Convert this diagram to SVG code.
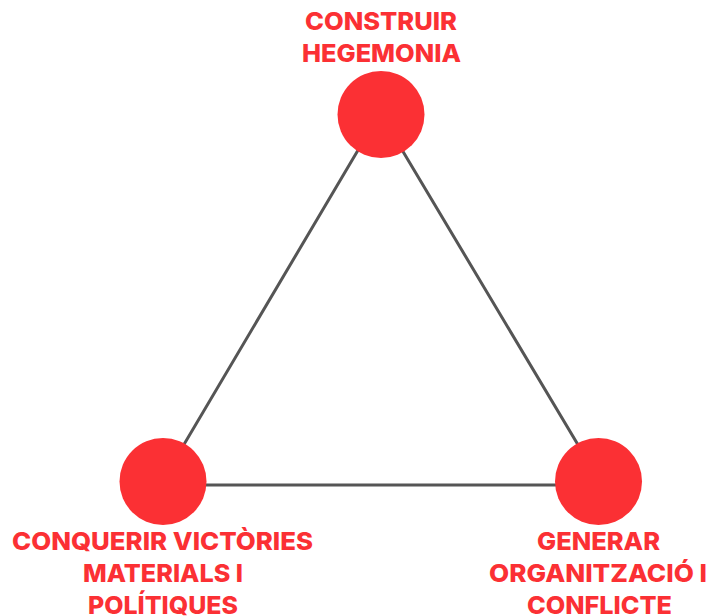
<svg xmlns="http://www.w3.org/2000/svg" width="709" height="616" viewBox="0 0 709 616">
<style>
.edge{stroke:#555555;stroke-width:3;fill:none;stroke-linecap:round}
.dot{fill:#fb3034}
.lbl{fill:#fb3034;font-family:Inter,"Liberation Sans",sans-serif;font-weight:800;font-size:25px;text-anchor:middle}
</style>
<rect width="709" height="616" fill="#ffffff"/>
<g id="connectors">
<line class="edge" x1="380" y1="113" x2="160" y2="485"/>
<line class="edge" x1="380" y1="113" x2="602" y2="485"/>
<line class="edge" x1="160" y1="485" x2="602" y2="485"/>
</g>
<g id="node-hegemonia">
<circle class="dot" cx="381" cy="114.5" r="43.5"/>
<text class="lbl" x="381" y="30" textLength="152" lengthAdjust="spacingAndGlyphs">CONSTRUIR</text>
<text class="lbl" x="381.5" y="62" textLength="159" lengthAdjust="spacingAndGlyphs">HEGEMONIA</text>
</g>
<g id="node-victories">
<circle class="dot" cx="163" cy="481.5" r="43.5"/>
<text class="lbl" x="162.5" y="550" textLength="301" lengthAdjust="spacingAndGlyphs">CONQUERIR VICTÒRIES</text>
<text class="lbl" x="163" y="582" textLength="160" lengthAdjust="spacingAndGlyphs">MATERIALS I</text>
<text class="lbl" x="163" y="614" textLength="150" lengthAdjust="spacingAndGlyphs">POLÍTIQUES</text>
</g>
<g id="node-conflicte">
<circle class="dot" cx="598.5" cy="481.5" r="43.5"/>
<text class="lbl" x="598.5" y="550" textLength="123" lengthAdjust="spacingAndGlyphs">GENERAR</text>
<text class="lbl" x="598" y="582" textLength="218" lengthAdjust="spacingAndGlyphs">ORGANITZACIÓ I</text>
<text class="lbl" x="599.5" y="614" textLength="145" lengthAdjust="spacingAndGlyphs">CONFLICTE</text>
</g>
</svg>
